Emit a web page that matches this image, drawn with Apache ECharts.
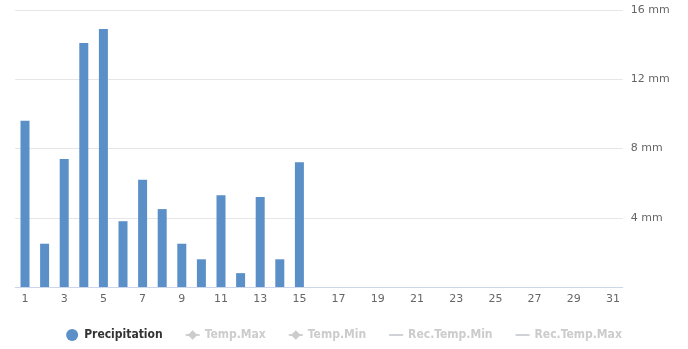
<!DOCTYPE html>
<html><head><meta charset="utf-8">
<script src="https://cdn.jsdelivr.net/npm/echarts@6/dist/echarts.min.js"></script>
<style>html,body{margin:0;padding:0;background:#fff}#c{width:688px;height:349px}</style>
</head><body><div id="c"></div>
<script>
const days = Array.from({length:31},(_,i)=>String(i+1));
const precipitation = [9.6,2.5,7.4,14.1,14.9,3.8,6.2,4.5,2.5,1.6,5.3,0.8,5.2,1.6,7.2];
const tempMax = [];
const tempMin = [];
const recTempMin = [];
const recTempMax = [];
const yTicks = [0,4,8,12,16];

const chart = echarts.init(document.getElementById('c'), null, {renderer:'canvas'});
const font = '"DejaVu Sans", sans-serif';
const legendFont = '"DejaVu Sans Condensed", "DejaVu Sans", sans-serif';
chart.setOption({
  animation:false,
  grid:{left:15.2,right:65.2,top:10,bottom:62},
  legend:{
    bottom:3, left:'center', itemGap:22, itemWidth:14, itemHeight:12,
    textStyle:{fontFamily:legendFont,fontSize:12,fontWeight:'bold',color:'#333'},
    inactiveColor:'#cccccc',
    data:[
      {name:'Precipitation',icon:'circle'},
      {name:'Temp.Max'},{name:'Temp.Min'},
      {name:'Rec.Temp.Min',itemStyle:{opacity:0}},
      {name:'Rec.Temp.Max',itemStyle:{opacity:0}}
    ],
    selected:{'Temp.Max':false,'Temp.Min':false,'Rec.Temp.Min':false,'Rec.Temp.Max':false}
  },
  xAxis:{
    type:'category', data:days,
    axisLine:{lineStyle:{color:'#ccd6eb'}},
    axisTick:{alignWithLabel:true, interval:1, length:8, lineStyle:{color:'#ccd6eb'}},
    axisLabel:{interval:1, color:'#666', fontFamily:font, fontSize:11, margin:7}
  },
  yAxis:{
    type:'value', position:'right', min:yTicks[0], max:yTicks[yTicks.length-1], interval:4,
    splitLine:{lineStyle:{color:'#e6e6e6'}},
    axisLine:{show:false}, axisTick:{show:false},
    axisLabel:{formatter:v=>v===0?'':v+' mm', color:'#666', fontFamily:font, fontSize:11, margin:8}
  },
  series:[
    {name:'Precipitation',type:'bar',data:precipitation,barWidth:9,itemStyle:{color:'#5b8fc7'}},
    {name:'Temp.Max',type:'line',data:tempMax,symbol:'diamond',symbolSize:8,itemStyle:{color:'#cccccc'}},
    {name:'Temp.Min',type:'line',data:tempMin,symbol:'diamond',symbolSize:8,itemStyle:{color:'#cccccc'}},
    {name:'Rec.Temp.Min',type:'line',data:recTempMin,symbol:'none',itemStyle:{color:'#cccccc'}},
    {name:'Rec.Temp.Max',type:'line',data:recTempMax,symbol:'none',itemStyle:{color:'#cccccc'}}
  ]
});
</script></body></html>
